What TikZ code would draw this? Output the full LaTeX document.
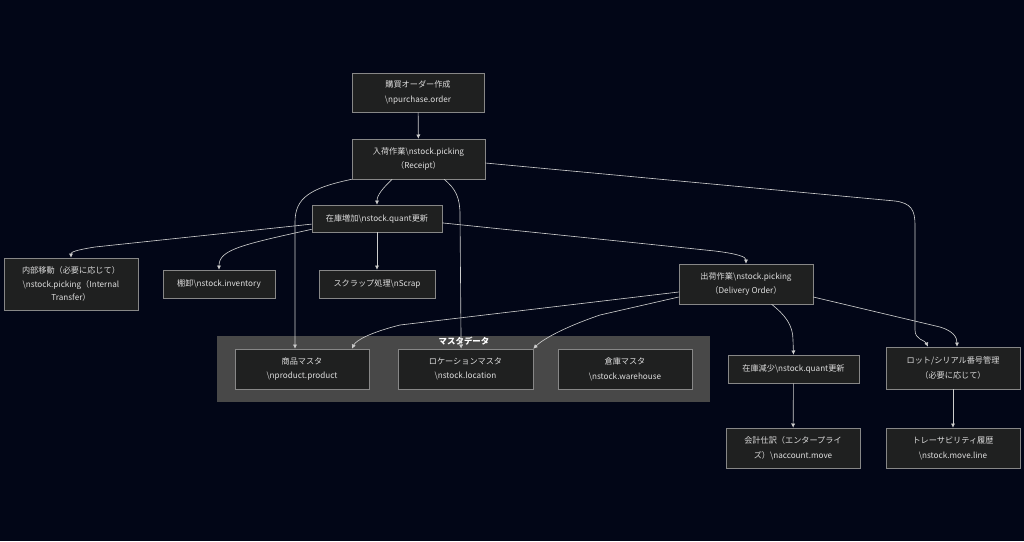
\documentclass[tikz,border=0pt]{standalone}
\usepackage{fontspec}
\usepackage{tikz}
\usetikzlibrary{arrows.meta}
\setmainfont{Noto Sans CJK JP}
\definecolor{mybg}{RGB}{2,6,23}
\definecolor{myboxfill}{RGB}{31,32,32}
\definecolor{myboxline}{RGB}{135,135,135}
\definecolor{mygroup}{RGB}{72,72,72}
\definecolor{myline}{RGB}{205,205,205}
\definecolor{mytext}{RGB}{222,222,222}

\begin{document}
\begin{tikzpicture}[x=0.025cm, y=-0.025cm,
    >={Latex[length=3pt,width=3pt]},
    box/.style={draw=myboxline, fill=myboxfill, text=mytext, align=center,
        inner sep=1pt, minimum width=3.35cm, minimum height=1cm,
        font=\fontsize{5.8}{10.5}\selectfont},
    flow/.style={->, draw=myline, line width=0.45pt}]
    % Draw the background
    \fill[mybg] (0,0) rectangle (1024,541);
    \useasboundingbox (0,0) rectangle (1024,541);

    % Draw the master data group
    \fill[mygroup] (217,336) rectangle (710,402);
    \node[text=white, font=\fontsize{6}{7}\selectfont\bfseries] (mastertitle) at (464,341) {マスタデータ};

    % Draw the nodes
    \node[box, minimum width=3.3cm, minimum height=0.975cm] (po) at (418,92.5) {購買オーダー作成\\\textbackslash npurchase.order};
    \node[box, minimum width=3.325cm] (receipt) at (418.5,159) {入荷作業\textbackslash nstock.picking\\（Receipt）};
    \node[box, minimum width=3.25cm, minimum height=0.675cm] (quantup) at (377,218.5) {在庫増加\textbackslash nstock.quant更新};
    \node[box, minimum height=1.3cm, font=\fontsize{5.8}{9.6}\selectfont] (internal) at (71,284) {内部移動（必要に応じて）\\\textbackslash nstock.picking（Internal\\Transfer）};
    \node[box, minimum width=2.8cm, minimum height=0.7cm] (inventory) at (219,284) {棚卸\textbackslash nstock.inventory};
    \node[box, minimum width=2.9cm, minimum height=0.7cm] (scrap) at (377,284) {スクラップ処理\textbackslash nScrap};
    \node[box] (delivery) at (746,284) {出荷作業\textbackslash nstock.picking\\（Delivery Order）};
    \node[box] (product) at (302,369) {商品マスタ\\\textbackslash nproduct.product};
    \node[box, minimum width=3.375cm] (location) at (465.5,369) {ロケーションマスタ\\\textbackslash nstock.location};
    \node[box] (warehouse) at (625,369) {倉庫マスタ\\\textbackslash nstock.warehouse};
    \node[box, minimum width=3.275cm, minimum height=0.7cm] (quantdown) at (793.5,369) {在庫減少\textbackslash nstock.quant更新};
    \node[box, minimum height=1.05cm] (lot) at (953,368) {ロット/シリアル番号管理\\（必要に応じて）};
    \node[box] (account) at (793,448) {会計仕訳（エンタープライ\\ズ）\textbackslash naccount.move};
    \node[box] (trace) at (953,448) {トレーサビリティ履歴\\\textbackslash nstock.move.line};

    % Draw the connectors
    \draw[flow] (po) -- (receipt);
    \draw[flow] ([xshift=-0.66cm]receipt.south) .. controls (383,188) and (377,195) .. (quantup.north);
    \draw[flow] (receipt.south west) .. controls (310,188) and (295,198) .. (295,222) -- ([xshift=-0.175cm]product.north);
    \draw[flow] ([xshift=0.64cm]receipt.south) .. controls (456,189) and (460,198) .. (460,215) -- ([xshift=-0.11cm]location.north);
    \draw[flow] ([yshift=-0.1cm]receipt.east) -- (895,201) .. controls (911,203) and (915,210) .. (915,225)
        -- (915,330) .. controls (915,340) and (925,340) .. ([xshift=-0.625cm]lot.north);
    \draw[flow] ([yshift=-0.14cm]quantup.west) -- (95,247) .. controls (76,250) and (71,252) .. (internal.north);
    \draw[flow] ([yshift=-0.27cm]quantup.west) .. controls (240,245) and (219,250) .. (inventory.north);
    \draw[flow] (quantup) -- (scrap);
    \draw[flow] ([yshift=-0.11cm]quantup.east) -- (715,251) .. controls (739,254) and (746,257) .. (delivery.north);
    \draw[flow] ([yshift=-0.2cm]delivery.west) -- (400,325) .. controls (372,332) and (356,340) .. ([xshift=1.25cm]product.north);
    \draw[flow] ([yshift=-0.325cm]delivery.west) -- (600,315) .. controls (562,328) and (542,340) .. (location.north east);
    \draw[flow] ([xshift=0.64cm]delivery.south) .. controls (785,315) and (793,325) .. (793,340) -- (quantdown.north);
    \draw[flow] ([yshift=-0.325cm]delivery.east) -- (940,327) .. controls (953,331) and (957,337) .. ([xshift=0.1cm]lot.north);
    \draw[flow] (quantdown) -- (account);
    \draw[flow] (lot) -- (trace);
\end{tikzpicture}
\end{document}
